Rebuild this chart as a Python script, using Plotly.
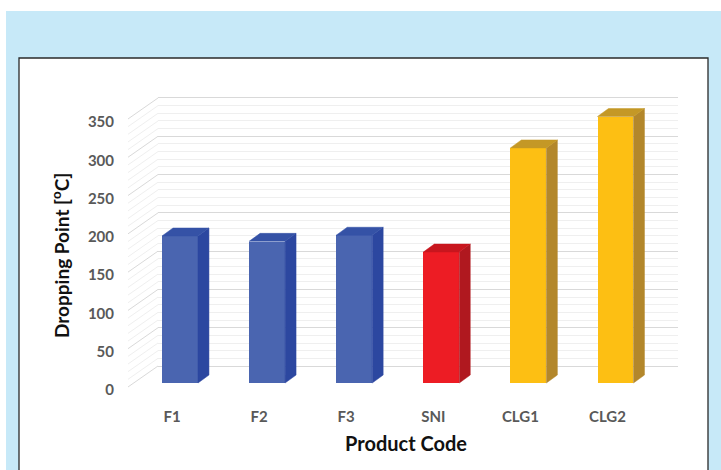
import plotly.graph_objects as go

# ---- data ----
categories = ["F1", "F2", "F3", "SNI", "CLG1", "CLG2"]
dropping_point = [192, 185, 193, 171, 307, 348]
groups = ["new", "new", "new", "ref", "com", "com"]
y_ticks = [0, 50, 100, 150, 200, 250, 300, 350]
y_minor = [v for v in range(10, 350, 10) if v % 50 != 0]

# ---- style ----
palette = {
    "new": ("#4A65B0", "#2C47A0", "#3552A6"),
    "ref": ("#ED1C24", "#B0181F", "#C8161E"),
    "com": ("#FDBF13", "#B3872B", "#C49826"),
}
W, H = 721, 470
FLOOR = -22.2      # front plane of the bars relative to back wall (axis units)
BAR_W = 0.413      # front face width (category units)
DX, DY = 0.126, 10.4   # depth projection of the bars
SIDE_DY = 27.4     # side-wall diagonal drop (axis units)
FONT = "Lato"

def px_x(p):
    return p / W

def px_y(p):
    return 1 - p / H

fig = go.Figure()

# front faces
fig.add_trace(go.Bar(
    x=list(range(len(categories))), y=dropping_point, base=FLOOR,
    width=BAR_W, marker=dict(color=[palette[g][0] for g in groups], line=dict(width=0)),
    hoverinfo="skip", showlegend=False))

# side and top faces
for i, (v, g) in enumerate(zip(dropping_point, groups)):
    top = FLOOR + v
    xr = i + BAR_W / 2
    xl = i - BAR_W / 2
    side_c, top_c = palette[g][1], palette[g][2]
    fig.add_trace(go.Scatter(
        x=[xr, xr + DX, xr + DX, xr, xr], y=[FLOOR, FLOOR + DY, top + DY, top, FLOOR],
        fill="toself", fillcolor=side_c, mode="lines", line=dict(color=side_c, width=0.5),
        hoverinfo="skip", showlegend=False))
    fig.add_trace(go.Scatter(
        x=[xl, xr, xr + DX, xl + DX, xl], y=[top, top, top + DY, top + DY, top],
        fill="toself", fillcolor=top_c, mode="lines", line=dict(color=top_c, width=0.5),
        hoverinfo="skip", showlegend=False))

shapes = [
    dict(type="rect", xref="paper", yref="paper", x0=px_x(6), x1=1.0, y0=0, y1=px_y(11),
         fillcolor="#C7E9F8", line=dict(width=0), layer="below"),
    dict(type="rect", xref="paper", yref="paper", x0=px_x(19), x1=px_x(708), y0=-0.01, y1=px_y(58),
         fillcolor="white", line=dict(color="#2a2a2a", width=1.3), layer="below"),
]
# side-wall diagonals
for v in y_minor:
    shapes.append(dict(type="line", xref="paper", yref="y", x0=px_x(128), x1=px_x(158),
                       y0=v - SIDE_DY, y1=v, line=dict(color="#EFEFEF", width=1), layer="below"))
for v in y_ticks:
    shapes.append(dict(type="line", xref="paper", yref="y", x0=px_x(128), x1=px_x(158),
                       y0=v - SIDE_DY, y1=v, line=dict(color="#D9D9D9", width=1), layer="below"))

annotations = [
    dict(text="Product Code", xref="paper", yref="paper", x=px_x(406), y=px_y(443),
         showarrow=False, font=dict(family=FONT, size=20, color="#111111", weight="bold"),
         xanchor="center", yanchor="middle"),
    dict(text="Dropping Point [<sup>o</sup>C]", xref="paper", yref="paper", x=px_x(60), y=px_y(256),
         showarrow=False, textangle=-90, font=dict(family=FONT, size=19, color="#111111", weight="bold"),
         xanchor="center", yanchor="middle"),
]

fig.update_layout(
    width=W, height=H, margin=dict(l=0, r=0, t=0, b=0, pad=0, autoexpand=False),
    paper_bgcolor="white", plot_bgcolor="rgba(0,0,0,0)",
    showlegend=False, bargap=0, shapes=shapes, annotations=annotations,
    xaxis=dict(domain=[px_x(158), px_x(678)], range=[-0.2526, 5.7176], automargin=False,
               tickmode="array", tickvals=list(range(len(categories))), ticktext=categories,
               showgrid=False, zeroline=False, showline=False, ticks="",
               tickfont=dict(family=FONT, size=15, color="#595959", weight="bold"),
               ticklabelshift=-8, ticklabelstandoff=13, fixedrange=True),
    yaxis=dict(domain=[px_y(392.8), px_y(88.8)], range=[-35, 362], automargin=False,
               tickmode="array", tickvals=y_ticks,
               showgrid=True, gridcolor="#D9D9D9", gridwidth=1,
               minor=dict(tickmode="array", tickvals=y_minor, showgrid=True,
                          gridcolor="#EFEFEF", gridwidth=1, ticks=""),
               zeroline=False, showline=False, ticks="",
               tickfont=dict(family=FONT, size=15, color="#595959", weight="bold"),
               ticklabelshift=24, ticklabelstandoff=43, fixedrange=True),
)

fig.write_html("out.html")
